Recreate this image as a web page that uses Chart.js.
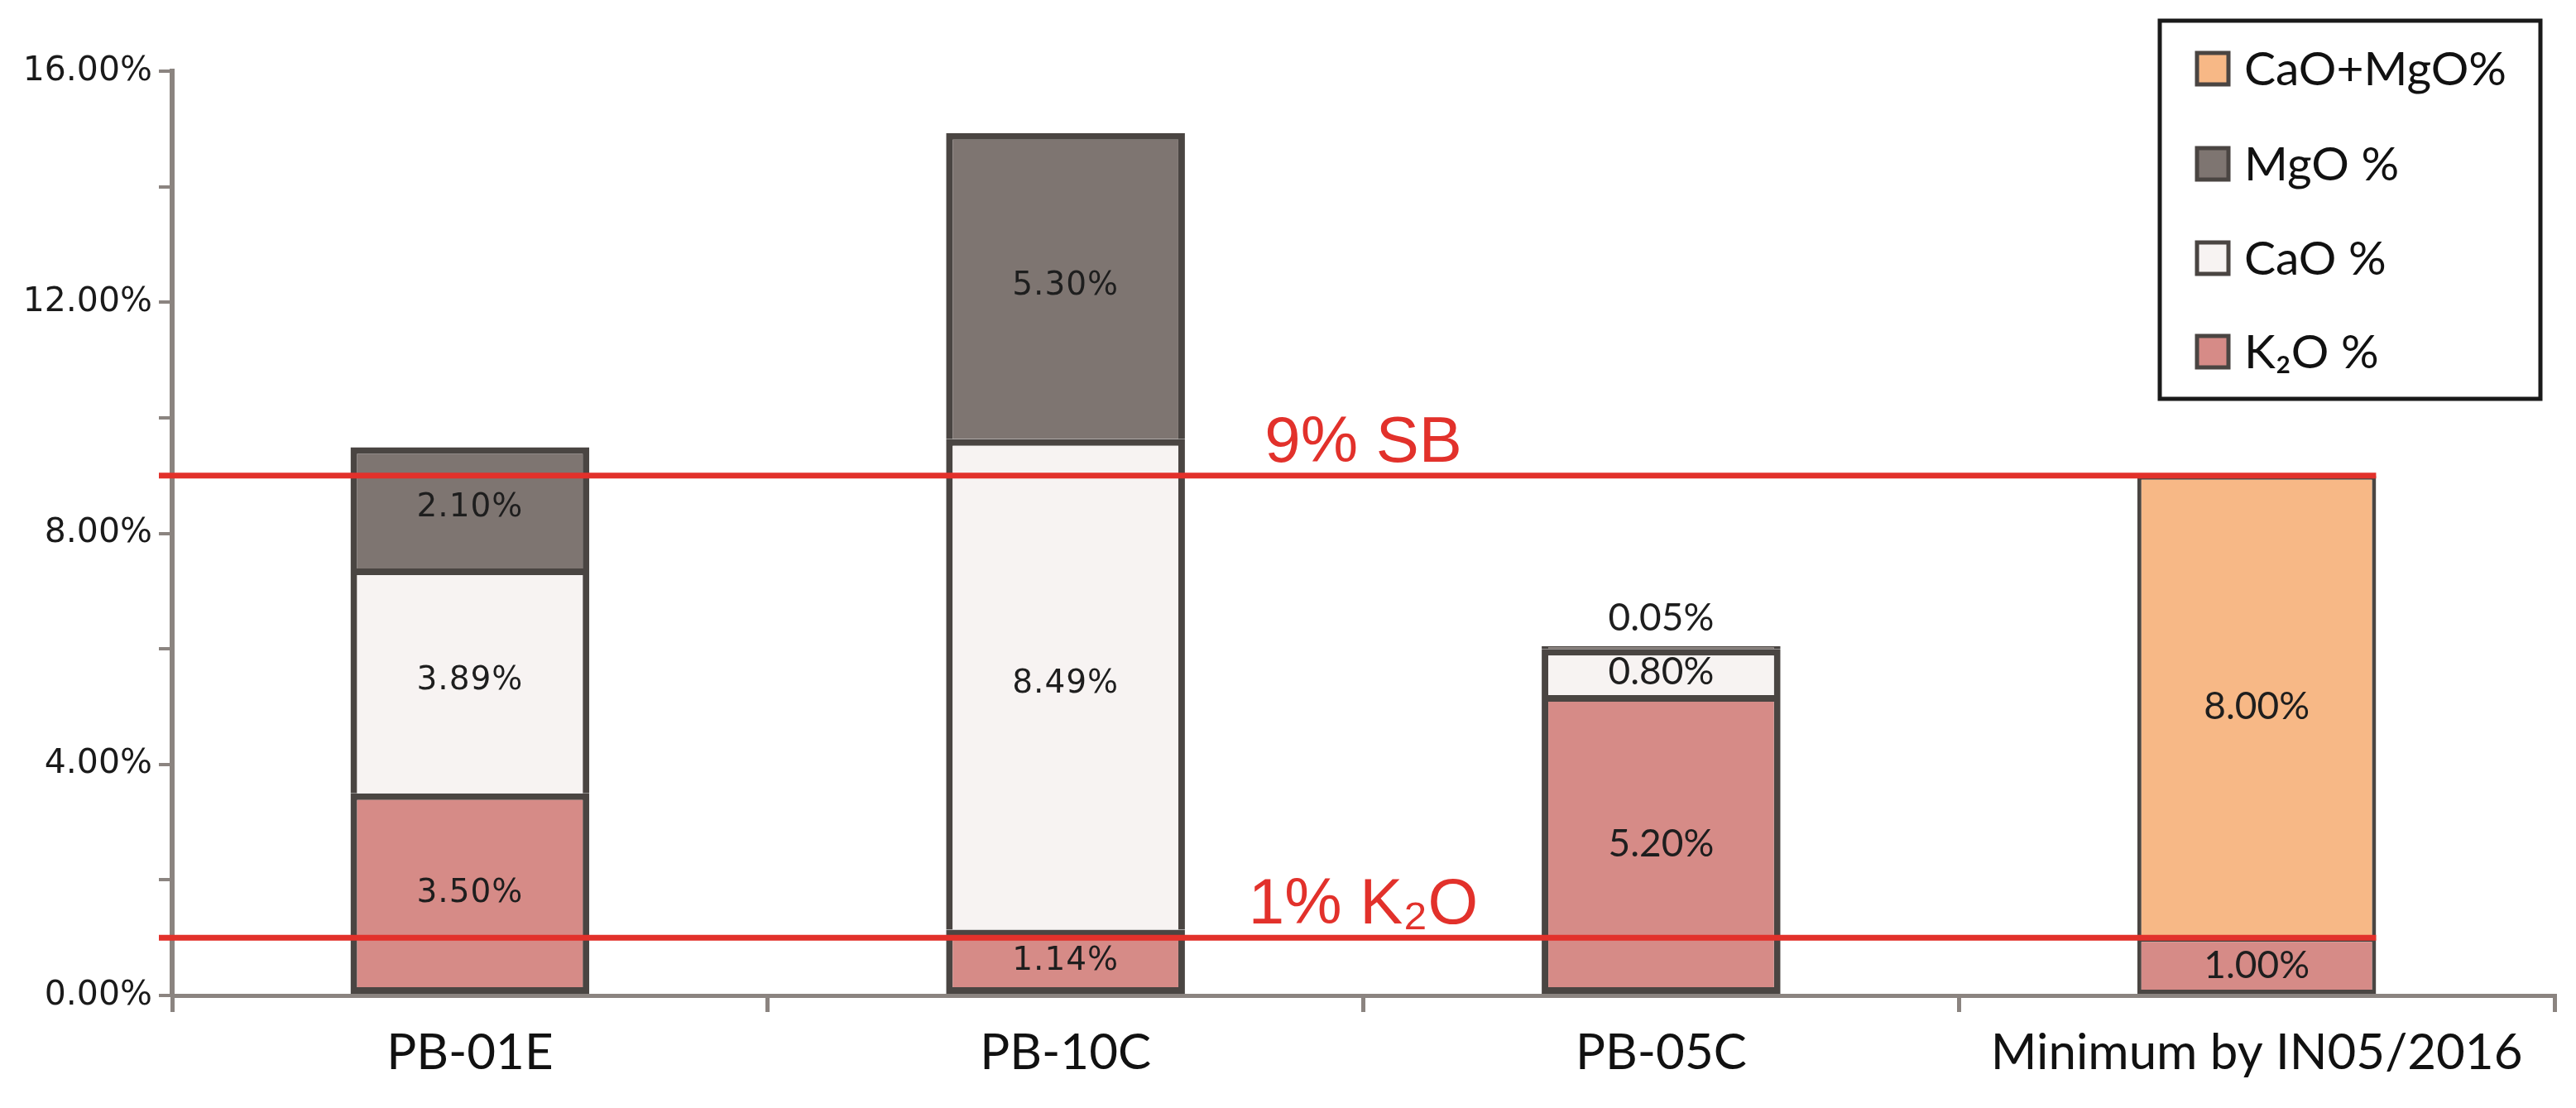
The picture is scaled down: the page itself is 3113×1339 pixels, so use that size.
<!DOCTYPE html>
<html><head><meta charset="utf-8">
<script src="https://cdn.jsdelivr.net/npm/chart.js@4/dist/chart.umd.min.js"></script>
<style>html,body{margin:0;padding:0;background:#fff;}#wrap{width:3113px;height:1339px;position:relative;}</style>
</head><body><div id="wrap"><canvas id="c"></canvas></div>
<script>
// ---- data ----
const categories = ['PB-01E', 'PB-10C', 'PB-05C', 'Minimum by IN05/2016'];
const k2oValues = [3.50, 1.14, 5.20, 1.00];
const caoValues = [3.89, 8.49, 0.80, null];
const mgoValues = [2.10, 5.30, 0.05, null];
const caoMgoValues = [null, null, null, 8.00];
const seriesNames = ['K₂O %', 'CaO %', 'MgO %', 'CaO+MgO%'];
const labelledTicks = [0, 4, 8, 12, 16];
const refValues = [9, 1];
const refLabels = ['9% SB', '1% K₂O'];

// ---- styles ----
const fillColors = ['#d68b87', '#f7f3f2', '#7e7571', '#f7b886'];
const edge = '#4a4542';
const axisGray = '#8b8480';
const red = '#e2312b';

function bw(ctx, isBottom) {
  const w = ctx.dataIndex === 3 ? 5 : 8;
  return isBottom ? {top: w, left: w, right: w, bottom: w} : {top: w, left: w, right: w, bottom: 0};
}

const datasets = [k2oValues, caoValues, mgoValues, caoMgoValues].map((vals, i) => ({
  label: seriesNames[i],
  data: vals,
  backgroundColor: fillColors[i],
  borderColor: edge,
  borderSkipped: false,
  borderWidth: (c) => bw(c, i === 0),
  barPercentage: 0.401,
  categoryPercentage: 1.0,
  stack: 's'
}));

const overlay = {
  id: 'overlay',
  afterDatasetsDraw(chart) {
    const ctx = chart.ctx, ys = chart.scales.y, xs = chart.scales.x, area = chart.chartArea;
    // data labels
    chart.data.datasets.forEach((ds, di) => {
      const meta = chart.getDatasetMeta(di);
      meta.data.forEach((bar, i) => {
        const v = ds.data[i];
        if (v == null) return;
        const top = Math.min(bar.y, bar.base), bottom = Math.max(bar.y, bar.base);
        const geo = i < 2;
        ctx.save();
        ctx.font = geo ? '39px "DejaVu Sans"' : '46px Lato';
        ctx.letterSpacing = geo ? '1px' : '0px';
        ctx.fillStyle = '#1e1e1e';
        ctx.textAlign = 'center';
        const txt = v.toFixed(2) + '%';
        if (bottom - top < 30) {
          ctx.textBaseline = 'alphabetic';
          ctx.fillText(txt, bar.x, top - 19);
        } else {
          ctx.textBaseline = 'middle';
          ctx.fillText(txt, bar.x, (top + bottom) / 2);
        }
        ctx.restore();
      });
    });
    // reference lines
    const lastBar = chart.getDatasetMeta(3).data[3];
    const xEnd = lastBar.x + lastBar.width / 2;
    const xStart = area.left - 16;
    const xLabel = (xs.getPixelForValue(1) + xs.getPixelForValue(2)) / 2;
    refValues.forEach((v, k) => {
      const py = ys.getPixelForValue(v);
      ctx.save();
      ctx.strokeStyle = red;
      ctx.lineWidth = 7;
      ctx.beginPath();
      ctx.moveTo(xStart, py);
      ctx.lineTo(xEnd, py);
      ctx.stroke();
      ctx.font = '78px "Liberation Sans"';
      ctx.fillStyle = red;
      ctx.textAlign = 'center';
      ctx.textBaseline = 'alphabetic';
      ctx.fillText(refLabels[k], xLabel, py - 17);
      ctx.restore();
    });
  },
  afterDraw(chart) {
    const ctx = chart.ctx;
    const bx = 2610, by = 25, bwid = 460, bh = 457;
    ctx.save();
    ctx.fillStyle = '#fff';
    ctx.fillRect(bx, by, bwid, bh);
    ctx.strokeStyle = '#1a1a1a';
    ctx.lineWidth = 5;
    ctx.strokeRect(bx, by, bwid, bh);
    const order = [3, 2, 1, 0];
    const rowY = [83, 198, 312, 425];
    order.forEach((di, r) => {
      const ds = chart.data.datasets[di];
      const cy = rowY[r];
      ctx.fillStyle = ds.backgroundColor;
      ctx.fillRect(2655, cy - 19, 38, 38);
      ctx.strokeStyle = edge;
      ctx.lineWidth = 5;
      ctx.strokeRect(2655, cy - 19, 38, 38);
      ctx.fillStyle = '#111';
      ctx.font = '57px Lato';
      ctx.textAlign = 'left';
      ctx.textBaseline = 'alphabetic';
      ctx.fillText(ds.label, 2712, cy + 20);
    });
    ctx.restore();
  }
};

new Chart(document.getElementById('c'), {
  type: 'bar',
  data: { labels: categories, datasets },
  options: {
    responsive: true,
    maintainAspectRatio: false,
    devicePixelRatio: 1,
    animation: false,
    layout: { padding: { top: 86, right: 26, left: 0, bottom: 0 } },
    plugins: { legend: { display: false }, tooltip: { enabled: false } },
    scales: {
      x: {
        stacked: true,
        offset: true,
        grid: { offset: true, drawOnChartArea: false, drawTicks: true, tickLength: 20, color: axisGray, lineWidth: 5 },
        border: { display: true, color: axisGray, width: 5 },
        ticks: { color: '#111', font: { family: 'Lato', size: 60 }, padding: 14, maxRotation: 0, autoSkip: false },
        afterFit(s) { s.height = 136; }
      },
      y: {
        stacked: true,
        min: 0, max: 16,
        grid: { drawOnChartArea: false, drawTicks: true, tickLength: 16, color: axisGray, lineWidth: 4 },
        border: { display: true, color: axisGray, width: 6 },
        ticks: {
          stepSize: 2,
          color: '#1a1a1a',
          font: { family: 'DejaVu Sans', size: 41 },
          padding: 8,
          callback: (v) => labelledTicks.includes(v) ? v.toFixed(2) + '%' : ''
        },
        afterFit(s) { s.width = 208; }
      }
    }
  },
  plugins: [overlay]
});
</script>
</body></html>
